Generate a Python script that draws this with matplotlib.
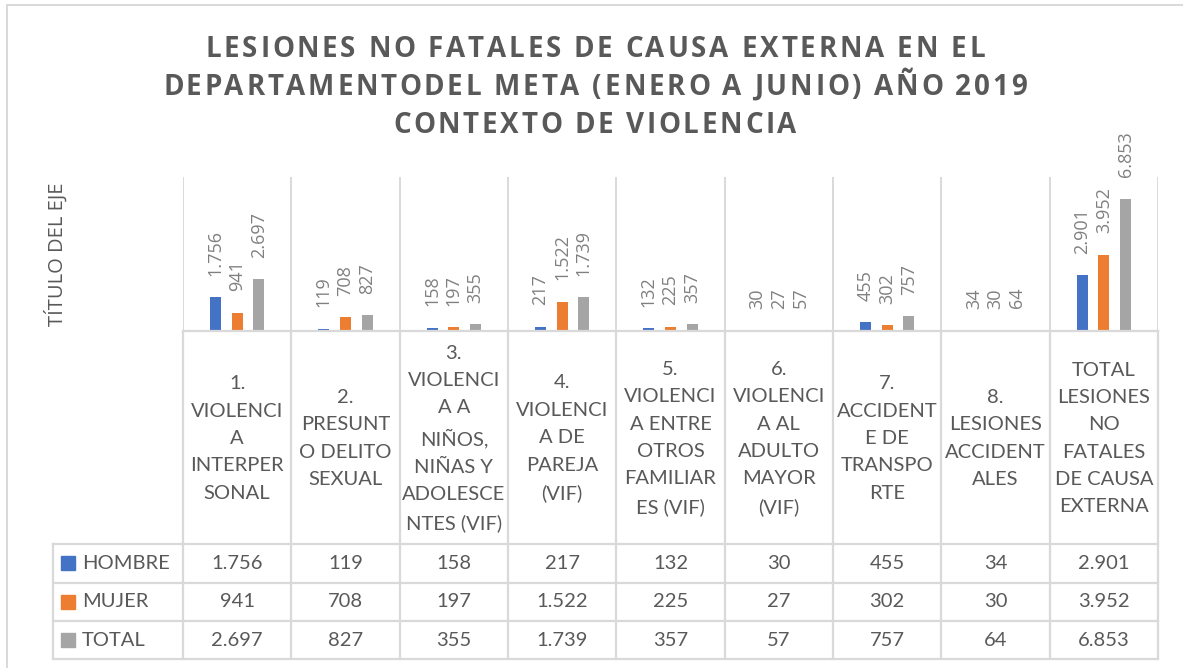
import matplotlib
matplotlib.use("Agg")
import matplotlib.pyplot as plt
from matplotlib.patches import Rectangle

# datos del grafico
categories = [
    "1.\nVIOLENCI\nA\nINTERPER\nSONAL",
    "2.\nPRESUNT\nO DELITO\nSEXUAL",
    "3.\nVIOLENCI\nA A\nNIÑOS,\nNIÑAS Y\nADOLESCE\nNTES (VIF)",
    "4.\nVIOLENCI\nA DE\nPAREJA\n(VIF)",
    "5.\nVIOLENCI\nA ENTRE\nOTROS\nFAMILIAR\nES (VIF)",
    "6.\nVIOLENCI\nA AL\nADULTO\nMAYOR\n(VIF)",
    "7.\nACCIDENT\nE DE\nTRANSPO\nRTE",
    "8.\nLESIONES\nACCIDENT\nALES",
    "TOTAL\nLESIONES\nNO\nFATALES\nDE CAUSA\nEXTERNA",
]
hombre = [1756, 119, 158, 217, 132, 30, 455, 34, 2901]
mujer = [941, 708, 197, 1522, 225, 27, 302, 30, 3952]
total = [2697, 827, 355, 1739, 357, 57, 757, 64, 6853]
series_names = ["HOMBRE", "MUJER", "TOTAL"]
series_colors = ["#4472C4", "#ED7D31", "#A5A5A5"]
title_lines = [
    "LESIONES NO FATALES DE CAUSA EXTERNA EN EL",
    "DEPARTAMENTODEL META (ENERO A JUNIO) AÑO 2019",
    "CONTEXTO DE VIOLENCIA",
]
y_title = "TÍTULO DEL EJE"

W, H = 1183, 668
TEXT = "#595959"
LABEL = "#808080"
LINE = "#D9D9D9"


def fmt(v):
    return f"{v:,}".replace(",", ".")


fig = plt.figure(figsize=(W / 100, H / 100), dpi=100)
fig.patch.set_facecolor("white")

# capa en pixeles para tabla, bordes y titulos
ov = fig.add_axes([0, 0, 1, 1], zorder=0)
ov.set_xlim(0, W)
ov.set_ylim(H, 0)
ov.axis("off")

# area de grafico
plot_l, plot_r = 183, 1158
base_y = 331
ymax = 8000
px_per_unit = 0.01927
top_y = base_y - ymax * px_per_unit
ax = fig.add_axes([plot_l / W, (H - base_y) / H, (plot_r - plot_l) / W, (base_y - top_y) / H], zorder=1)
ax.patch.set_alpha(0)
n = len(categories)
ax.set_xlim(-0.5, n - 0.5)
ax.set_ylim(0, ymax)
for s in ["top", "left", "right"]:
    ax.spines[s].set_visible(False)
ax.spines["bottom"].set_color(LINE)
ax.spines["bottom"].set_linewidth(1.6)
ax.set_xticks([])
ax.set_yticks([])
ax.vlines([k - 0.5 for k in range(n + 1)], 0, ymax, color=LINE, lw=1.4, zorder=0)

width = 0.1
offsets = [-0.2, 0.0, 0.2]
for vals, off, col in zip([hombre, mujer, total], offsets, series_colors):
    xs = [i + off for i in range(n)]
    ax.bar(xs, vals, width=width, color=col, zorder=2)
    for x, v in zip(xs, vals):
        ax.annotate(fmt(v), (x, v), xytext=(0, 15.5), textcoords="offset points",
                    rotation=90, ha="center", va="bottom", color=LABEL,
                    fontsize=13, family="Open Sans", annotation_clip=False)

# borde exterior del grafico
ov.plot([7, W], [5, 5], color=LINE, lw=1.4)
ov.plot([7, 7], [5, H], color=LINE, lw=1.4)

# tabla de datos
colw = (plot_r - plot_l) / n
tab_l = 53
rows = [544, 582.5, 621, 659]
for k in range(n + 1):
    ov.plot([plot_l + k * colw] * 2, [base_y, rows[-1]], color=LINE, lw=1.6)
ov.plot([tab_l, tab_l], [rows[0], rows[-1]], color=LINE, lw=1.6)
for y in rows:
    ov.plot([tab_l, plot_r], [y, y], color=LINE, lw=1.6)

for i, cat in enumerate(categories):
    ov.text(plot_l + (i + 0.5) * colw, (base_y + rows[0]) / 2 + 1, cat, ha="center", va="center",
            multialignment="center", linespacing=1.74, fontsize=14.5, family="Lato", color=TEXT)

for r, (name, col, vals) in enumerate(zip(series_names, series_colors, [hombre, mujer, total])):
    yc = (rows[r] + rows[r + 1]) / 2
    ov.add_patch(Rectangle((61, yc - 7), 14, 14, color=col))
    ov.text(82, yc, name, ha="left", va="center", fontsize=14.5, family="Lato", color=TEXT)
    for i, v in enumerate(vals):
        ov.text(plot_l + (i + 0.5) * colw, yc, fmt(v), ha="center", va="center",
                fontsize=14.5, family="Lato", color=TEXT)

# titulo del eje
ov.text(56, (top_y + base_y) / 2, y_title, rotation=90, ha="center", va="center",
        fontsize=14.5, family="Open Sans", color=TEXT)

# titulo con espaciado entre letras
renderer = fig.canvas.get_renderer()
tsize = 20


def text_w(s):
    t = fig.text(0, 0, s, fontsize=tsize, fontweight="bold", family="Open Sans")
    w = t.get_window_extent(renderer).width
    t.remove()
    return w


ref = text_w("XX")
advs = [[text_w("X" + c + "X") - ref for c in line] for line in title_lines]
track = (864 - sum(advs[1])) / (len(title_lines[1]) - 1)
center_x = 595
for line, adv, yb in zip(title_lines, advs, [56.7, 95, 133.3]):
    tot = sum(adv) + track * (len(line) - 1)
    x = center_x - tot / 2
    for c, a in zip(line, adv):
        fig.text(x / W, 1 - yb / H, c, ha="left", va="baseline", fontsize=tsize,
                 fontweight="bold", family="Open Sans", color=TEXT)
        x += a + track

fig.savefig("out.png", dpi=100)
